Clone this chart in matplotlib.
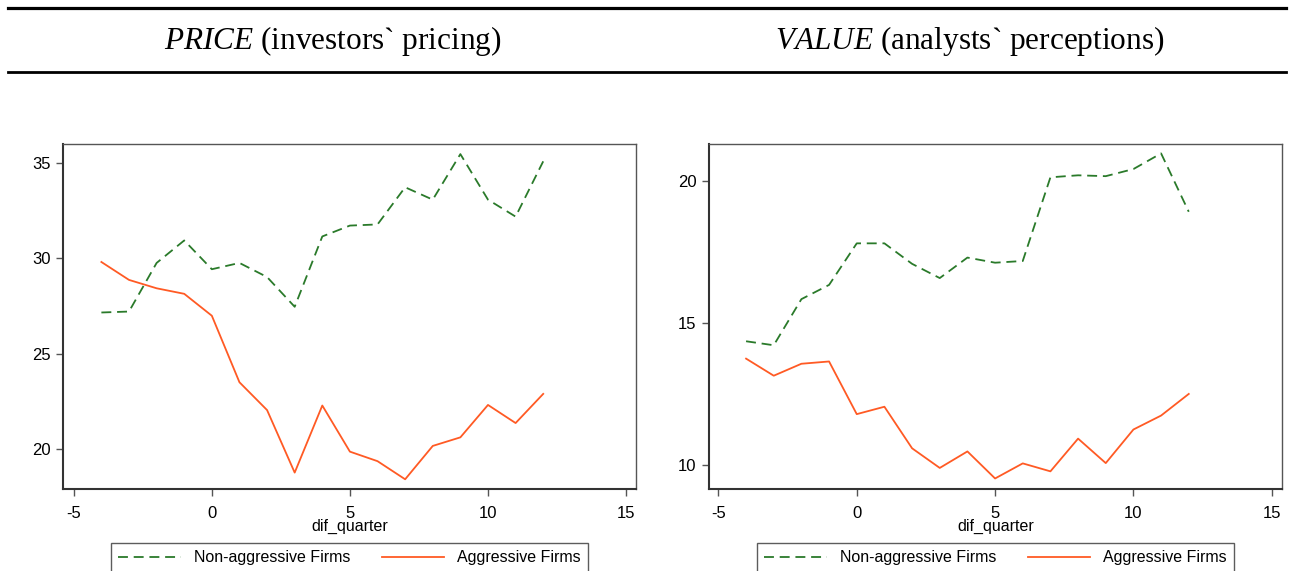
import numpy as np
import matplotlib.pyplot as plt
from matplotlib.lines import Line2D

plt.rcParams['font.family'] = ['Liberation Sans', 'DejaVu Sans']
plt.rcParams['axes.unicode_minus'] = False
plt.rcParams['mathtext.fontset'] = 'custom'
plt.rcParams['mathtext.rm'] = 'Liberation Serif'
plt.rcParams['mathtext.it'] = 'Liberation Serif:italic'

quarters = np.arange(-4, 13)

price_nonaggr = [27.16, 27.21, 29.76, 30.94, 29.43, 29.76, 29.02, 27.46, 31.15,
                 31.72, 31.78, 33.73, 33.08, 35.47, 33.08, 32.19, 35.09]
price_aggr = [29.81, 28.87, 28.43, 28.14, 26.99, 23.50, 22.04, 18.76, 22.28,
              19.86, 19.36, 18.41, 20.16, 20.61, 22.31, 21.36, 22.89]

value_nonaggr = [14.36, 14.22, 15.84, 16.34, 17.80, 17.80, 17.08, 16.58, 17.30,
                 17.12, 17.18, 20.12, 20.19, 20.16, 20.41, 20.96, 18.91]
value_aggr = [13.75, 13.15, 13.57, 13.65, 11.80, 12.06, 10.60, 9.91, 10.49,
              9.54, 10.07, 9.79, 10.94, 10.08, 11.26, 11.75, 12.51]

titles = [r"$\mathit{PRICE}$ (investors` pricing)",
          r"$\mathit{VALUE}$ (analysts` perceptions)"]
labels = ["Non-aggressive Firms", "Aggressive Firms"]
green = '#2a7a2a'
orange = '#ff5a24'

W, H = 1294, 571
fig = plt.figure(figsize=(W / 100, H / 100), dpi=100)

# header rules and titles
fig.add_artist(Line2D([8 / W, 1286 / W], [1 - 8 / H, 1 - 8 / H], color='black', lw=2.3))
fig.add_artist(Line2D([8 / W, 1286 / W], [1 - 72 / H, 1 - 72 / H], color='black', lw=2.0))
fig.text(333 / W, 1 - 41 / H, titles[0], fontsize=22.5, ha='center', va='center',
         family='Liberation Serif')
fig.text(970 / W, 1 - 41 / H, titles[1], fontsize=22.5, ha='center', va='center',
         family='Liberation Serif')

panels = [
    dict(left=63, right=636, nonaggr=price_nonaggr, aggr=price_aggr,
         ylim=(17.9, 36.0), yticks=[20, 25, 30, 35], xlim=(-5.39, 15.36)),
    dict(left=709, right=1282, nonaggr=value_nonaggr, aggr=value_aggr,
         ylim=(9.17, 21.29), yticks=[10, 15, 20], xlim=(-5.34, 15.37)),
]

for p in panels:
    ax = fig.add_axes([p['left'] / W, 1 - 489 / H, (p['right'] - p['left']) / W, 345 / H])
    ax.plot(quarters, p['nonaggr'], color=green, lw=1.3, dashes=(5.5, 3.2), label=labels[0])
    ax.plot(quarters, p['aggr'], color=orange, lw=1.3, label=labels[1])
    ax.set_xlim(*p['xlim'])
    ax.set_ylim(*p['ylim'])
    ax.set_xticks([-5, 0, 5, 10, 15])
    ax.set_yticks(p['yticks'])
    ax.tick_params(labelsize=12, length=5, width=1, color='#555555')
    ax.tick_params(axis='x', pad=7)
    ax.tick_params(axis='y', pad=4)
    ax.set_xlabel("dif_quarter", fontsize=11.5, labelpad=-1)
    for side in ['top', 'right']:
        ax.spines[side].set_color('#555555')
        ax.spines[side].set_linewidth(1.0)
    for side in ['left', 'bottom']:
        ax.spines[side].set_color('#333333')
        ax.spines[side].set_linewidth(1.5)
    cx = (p['left'] + p['right']) / 2 / W
    leg = ax.legend(loc='upper center', bbox_to_anchor=(cx, 1 - 543 / H),
                    bbox_transform=fig.transFigure, ncol=2, fontsize=11.5,
                    frameon=True, fancybox=False, edgecolor='#333333',
                    borderaxespad=0, handlelength=3.9, handletextpad=0.8,
                    columnspacing=2.0, borderpad=0.45)
    leg.get_frame().set_linewidth(1.0)

fig.savefig("out.png", dpi=100)
